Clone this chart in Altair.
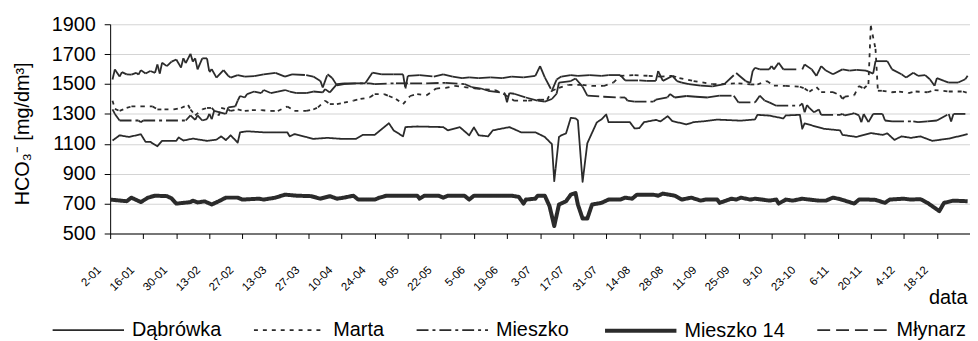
import altair as alt
import pandas as pd

YEAR = 2007
series_names = ["Dąbrówka", "Marta", "Mieszko", "Mieszko 14", "Młynarz"]
tick_labels = ["2-01", "16-01", "30-01", "13-02", "27-02", "13-03", "27-03", "10-04", "24-04",
               "8-05", "22-05", "5-06", "19-06", "3-07", "17-07", "31-07", "14-08", "28-08",
               "11-09", "25-09", "9-10", "23-10", "6-11", "20-11", "4-12", "18-12"]
y_ticks = [500, 700, 900, 1100, 1300, 1500, 1700, 1900]

# day of year / value pairs
dabrowka_days = [3, 6, 10, 15, 17, 19, 22, 24, 30, 31, 33, 37, 43, 47, 49, 51, 53, 56, 57, 60, 67, 77, 78, 80,
                 85, 88, 94, 100, 106, 109, 114, 118, 120, 122, 126, 127, 132, 143, 145, 150, 154, 156, 158,
                 162, 164, 171, 176, 182, 186, 189, 190, 192, 193, 195, 197, 199, 200, 202, 204, 208, 210,
                 212, 213, 222, 224, 226, 228, 233, 235, 238, 240, 246, 249, 254, 259, 269, 275, 276, 281,
                 287, 288, 294, 295, 296, 304, 311, 312, 318, 324, 329, 331, 334, 337, 341, 345, 350, 357,
                 363, 365]
dabrowka_vals = [1122, 1157, 1146, 1164, 1113, 1113, 1084, 1120, 1120, 1143, 1122, 1135, 1120, 1128, 1150,
                 1125, 1157, 1108, 1177, 1184, 1177, 1177, 1150, 1165, 1146, 1133, 1140, 1133, 1133, 1160,
                 1160, 1212, 1238, 1190, 1150, 1212, 1216, 1212, 1190, 1212, 1157, 1210, 1157, 1150, 1190,
                 1212, 1177, 1177, 1146, 1098, 850, 1146, 1157, 1170, 1274, 1270, 1257, 845, 1104, 1243,
                 1264, 1296, 1245, 1245, 1203, 1205, 1245, 1260, 1250, 1285, 1252, 1230, 1245, 1252, 1262,
                 1255, 1263, 1294, 1289, 1270, 1290, 1294, 1201, 1237, 1201, 1190, 1160, 1146, 1172, 1160,
                 1170, 1126, 1150, 1140, 1150, 1120, 1135, 1157, 1165]

marta_days = [3, 4, 6, 9, 11, 15, 20, 22, 25, 29, 32, 35, 36, 38, 41, 43, 45, 48, 49, 52, 53, 56, 59, 62,
              66, 70, 73, 77, 80, 85, 88, 90, 93, 95, 98, 101, 105, 108, 112, 114, 118, 120, 123, 126, 129,
              132, 136, 140, 144, 148, 152, 157, 161, 165, 169, 173, 179, 184, 187, 189, 192, 196, 202, 206,
              211, 215, 218, 224, 230, 235, 240, 243, 249, 257, 261, 268, 273, 276, 280, 283, 288, 294, 296,
              298, 301, 303, 308, 311, 312, 313, 317, 319, 321, 323, 324, 326, 327, 329, 333, 336, 340, 343,
              348, 351, 357, 363, 365]
marta_vals = [1389, 1334, 1320, 1340, 1350, 1350, 1350, 1330, 1330, 1330, 1340, 1360, 1330, 1290, 1330, 1340,
              1340, 1290, 1340, 1330, 1320, 1330, 1320, 1325, 1325, 1320, 1320, 1350, 1320, 1320, 1330, 1344,
              1389, 1366, 1366, 1375, 1389, 1400, 1411, 1433, 1433, 1420, 1400, 1366, 1420, 1433, 1425, 1470,
              1475, 1487, 1480, 1470, 1465, 1460, 1430, 1389, 1389, 1395, 1395, 1455, 1475, 1495, 1495, 1487,
              1487, 1510, 1555, 1560, 1555, 1550, 1555, 1540, 1520, 1500, 1500, 1505, 1497, 1497, 1520, 1490,
              1487, 1482, 1470, 1448, 1480, 1446, 1446, 1425, 1400, 1415, 1425, 1487, 1470, 1500, 1890, 1735,
              1455, 1455, 1445, 1450, 1440, 1450, 1445, 1460, 1450, 1450, 1440]

mieszko_days = [3, 4, 6, 14, 15, 16, 34, 36, 38, 39, 41, 43, 44, 45, 46, 51, 52, 55, 56, 57, 59, 60, 63, 66,
                67, 70, 73, 76, 78, 81, 85, 88, 92, 93, 95, 98, 101, 112, 114, 123, 129, 136, 144, 152, 155,
                159, 162, 169, 170, 171, 173, 178, 183, 186, 189, 191, 192, 197, 199, 202, 204, 211, 218, 220,
                221, 224, 232, 233, 238, 239, 241, 246, 250, 255, 260, 266, 268, 275, 277, 279, 281, 284, 294,
                295, 296, 297, 298, 300, 302, 303, 311, 312, 313, 316, 317, 319, 320, 321, 323, 325, 329, 330,
                333, 342, 344, 348, 352, 357, 358, 359, 365]
mieszko_vals = [1330, 1300, 1256, 1256, 1245, 1256, 1256, 1290, 1260, 1290, 1256, 1265, 1300, 1265, 1320, 1300,
                1344, 1350, 1389, 1420, 1410, 1433, 1450, 1440, 1460, 1440, 1450, 1460, 1450, 1440, 1440, 1450,
                1444, 1466, 1444, 1499, 1505, 1505, 1500, 1505, 1505, 1505, 1508, 1500, 1480, 1470, 1455, 1440,
                1378, 1440, 1435, 1410, 1389, 1382, 1400, 1435, 1510, 1520, 1537, 1483, 1422, 1415, 1410, 1410,
                1389, 1382, 1382, 1395, 1411, 1433, 1410, 1420, 1415, 1410, 1422, 1422, 1377, 1377, 1422, 1390,
                1377, 1355, 1355, 1370, 1311, 1360, 1340, 1311, 1330, 1294, 1294, 1300, 1290, 1300, 1305, 1290,
                1245, 1300, 1245, 1300, 1300, 1256, 1250, 1250, 1245, 1250, 1256, 1300, 1250, 1300, 1300]

mieszko14_days = [2, 9, 11, 15, 18, 21, 26, 28, 30, 36, 37, 39, 42, 45, 48, 51, 56, 58, 65, 67, 72, 76, 81,
                  87, 91, 95, 98, 101, 105, 107, 114, 116, 119, 132, 133, 135, 141, 143, 145, 152, 154, 156,
                  165, 172, 175, 177, 178, 182, 183, 186, 188, 190, 192, 195, 197, 199, 200, 202, 204, 206,
                  210, 213, 218, 220, 223, 225, 232, 234, 236, 241, 244, 248, 252, 254, 259, 260, 265, 267,
                  269, 273, 275, 278, 281, 284, 285, 288, 291, 295, 298, 302, 305, 308, 311, 317, 319, 323,
                  326, 330, 332, 338, 341, 345, 348, 351, 353, 355, 359, 365]
mieszko14_vals = [727, 716, 740, 710, 740, 753, 750, 735, 700, 710, 720, 708, 715, 694, 716, 740, 740, 727,
                  733, 727, 740, 760, 753, 750, 733, 750, 733, 740, 753, 727, 727, 740, 753, 753, 733, 753,
                  753, 740, 753, 753, 727, 753, 753, 753, 745, 700, 727, 733, 753, 753, 683, 550, 694, 716,
                  760, 771, 694, 600, 600, 694, 705, 727, 727, 740, 733, 760, 760, 753, 767, 753, 727, 740,
                  720, 727, 727, 705, 733, 727, 740, 727, 733, 727, 720, 727, 700, 727, 720, 733, 727, 720,
                  720, 740, 730, 700, 727, 727, 725, 705, 727, 733, 727, 730, 705, 672, 650, 705, 720, 716]

mlynarz_days = [3, 4, 6, 7, 9, 11, 13, 14, 15, 17, 19, 21, 22, 23, 24, 26, 28, 30, 32, 33, 34, 36, 37, 38,
                39, 41, 43, 44, 45, 47, 50, 52, 53, 56, 59, 63, 67, 72, 76, 79, 85, 88, 91, 92, 94, 96, 98,
                101, 106, 110, 113, 117, 122, 126, 127, 128, 133, 139, 143, 147, 151, 154, 158, 163, 168, 172,
                177, 182, 184, 186, 189, 191, 193, 197, 200, 205, 210, 213, 218, 220, 226, 229, 233, 234, 236,
                240, 242, 244, 247, 252, 257, 262, 267, 271, 273, 274, 275, 277, 281, 282, 283, 285, 287, 295,
                296, 299, 301, 303, 305, 308, 312, 315, 318, 322, 325, 326, 331, 333, 337, 339, 342, 344, 347,
                349, 351, 352, 355, 357, 361, 364, 365]
mlynarz_vals = [1530, 1598, 1550, 1580, 1565, 1563, 1575, 1563, 1593, 1570, 1587, 1575, 1631, 1570, 1643, 1620,
                1650, 1664, 1610, 1672, 1640, 1702, 1650, 1672, 1598, 1672, 1672, 1580, 1600, 1543, 1593, 1555,
                1543, 1560, 1550, 1553, 1565, 1575, 1550, 1565, 1560, 1550, 1521, 1477, 1565, 1540, 1491, 1499,
                1505, 1505, 1576, 1565, 1565, 1565, 1470, 1555, 1560, 1550, 1565, 1550, 1540, 1545, 1540, 1545,
                1540, 1550, 1545, 1555, 1620, 1545, 1455, 1530, 1550, 1560, 1555, 1560, 1555, 1560, 1560, 1524,
                1524, 1521, 1521, 1587, 1521, 1554, 1520, 1510, 1500, 1490, 1485, 1500, 1574, 1520, 1508, 1587,
                1609, 1598, 1598, 1620, 1598, 1642, 1598, 1598, 1631, 1598, 1554, 1620, 1590, 1565, 1598, 1590,
                1595, 1590, 1570, 1653, 1653, 1598, 1565, 1543, 1575, 1555, 1560, 1532, 1488, 1540, 1521, 1510,
                1510, 1532, 1555]

line_color = "#2b2b2b"
dash_styles = [[1, 0], [4, 5], [12, 4, 3, 4], [1, 0], [13, 6]]
width_styles = [1.8, 1.8, 1.8, 4, 1.8]

base = pd.Timestamp(f"{YEAR}-01-01")


def to_date(d):
    return base + pd.Timedelta(days=d - 1)


all_series = {
    "Dąbrówka": (dabrowka_days, dabrowka_vals),
    "Marta": (marta_days, marta_vals),
    "Mieszko": (mieszko_days, mieszko_vals),
    "Mieszko 14": (mieszko14_days, mieszko14_vals),
    "Młynarz": (mlynarz_days, mlynarz_vals),
}
solid = ["Dąbrówka", "Mieszko 14"]

solid_rows, seg_rows = [], []
for name, (days, vals) in all_series.items():
    if name in solid:
        for d, v in zip(days, vals):
            solid_rows.append({"series": name, "date": to_date(d), "value": v})
    else:
        # Excel restarts the dash pattern on every segment
        for i in range(len(days) - 1):
            for j in (i, i + 1):
                seg_rows.append({"series": name, "seg": f"{name}-{i}",
                                 "date": to_date(days[j]), "value": vals[j]})

solid_df = pd.DataFrame(solid_rows)
seg_df = pd.DataFrame(seg_rows)

tick_dates = []
for lab in tick_labels:
    dd, mm = lab.split("-")
    tick_dates.append(alt.DateTime(year=YEAR, month=int(mm), date=int(dd)))

x_enc = alt.X(
    "date:T",
    scale=alt.Scale(domain=[alt.DateTime(year=YEAR, month=1, date=2),
                            alt.DateTime(year=YEAR + 1, month=1, date=1)]),
    axis=alt.Axis(values=tick_dates, format="%-d-%m", title="data", grid=False,
                  labelAngle=-45, labelAlign="right", labelBaseline="middle",
                  labelFontSize=11.5, labelPadding=30, labelOffset=-11, labelColor="black",
                  tickSize=5, tickColor="black", domainColor="black", labelOverlap=False,
                  titleFontSize=20, titleFontWeight="normal", titleColor="black",
                  titleAnchor="end", titleAlign="right", titleX=864, titleY=71,
                  titleBaseline="alphabetic"),
)
y_enc = alt.Y(
    "value:Q",
    scale=alt.Scale(domain=[500, 1900], nice=False, zero=False),
    axis=alt.Axis(values=y_ticks, format="d", title="HCO₃⁻ [mg/dm³]", grid=True, gridColor="#d4d4d4",
                  gridWidth=1.2, labelFontSize=20, labelColor="black", labelPadding=9,
                  tickSize=6, tickColor="black", domainColor="black",
                  titleFontSize=20, titleFontWeight="normal", titleColor="black",
                  titleX=-88, titleY=110, titleAlign="center", titleBaseline="middle",
                  titleAngle=-90),
)
legend = alt.Legend(orient="none", legendX=-60, legendY=271, direction="horizontal", columns=5,
                    title=None, symbolType="stroke", symbolSize=5184, labelFontSize=20,
                    labelColor="black", columnPadding=28, labelOffset=6, labelLimit=300)
color_enc = alt.Color("series:N", scale=alt.Scale(domain=series_names, range=[line_color] * 5),
                      legend=legend)
dash_enc = alt.StrokeDash("series:N", scale=alt.Scale(domain=series_names, range=dash_styles),
                          legend=legend)
width_enc = alt.StrokeWidth("series:N",
                            scale=alt.Scale(type="ordinal", domain=series_names, range=width_styles),
                            legend=legend)

solid_layer = alt.Chart(solid_df).mark_line(strokeJoin="round").encode(
    x=x_enc, y=y_enc, color=color_enc, strokeDash=dash_enc, strokeWidth=width_enc,
    detail="series:N")
seg_layer = alt.Chart(seg_df).mark_line(strokeJoin="round").encode(
    x=x_enc, y=y_enc, color=color_enc, strokeDash=dash_enc, strokeWidth=width_enc,
    detail="seg:N")

chart = alt.layer(seg_layer, solid_layer).properties(
    width=867, height=211,
    autosize=alt.AutoSizeParams(type="none"),
    padding={"left": 103, "top": 15, "right": 0, "bottom": 107},
).configure(font="Liberation Sans").configure_view(stroke=None)

chart.save("out.html", embed_options={"renderer": "svg", "actions": False})
